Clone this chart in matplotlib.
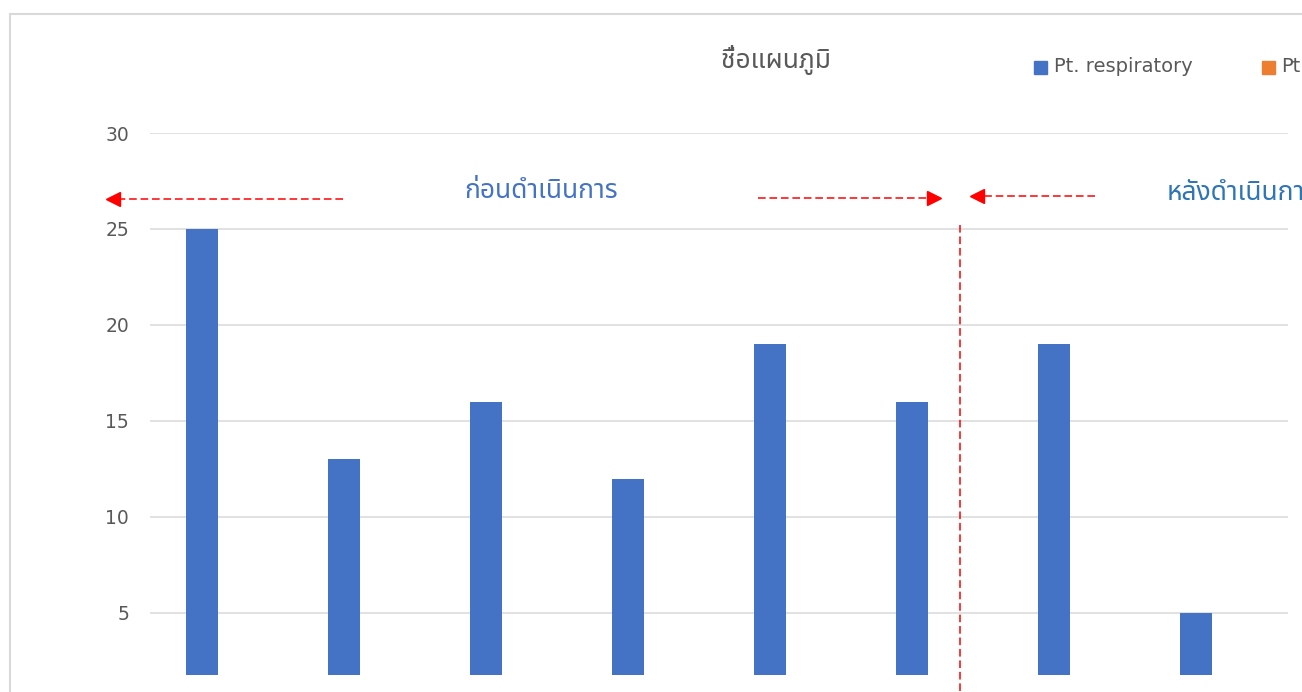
import matplotlib
matplotlib.use("Agg")
import matplotlib.pyplot as plt
from matplotlib import font_manager
from matplotlib.patches import Rectangle

# data
categories = [0, 1, 2, 3, 4, 5, 6, 7]
respiratory = [25, 13, 16, 12, 19, 16, 19, 5]
yticks = [5, 10, 15, 20, 25, 30]
title = "ชื่อแผนภูมิ"
series_names = ["Pt. respiratory", "Pt."]
before_label = "ก่อนดำเนินการ"
after_label = "หลังดำเนินการ"

# pick a Thai font that is installed
installed = {f.name for f in font_manager.fontManager.ttflist}
thai = "DejaVu Sans"
for name in ["Noto Sans Thai", "Noto Sans Thai UI", "Anuphan", "Sarabun", "Athiti"]:
    if name in installed:
        thai = name
        break
plt.rcParams['font.family'] = ['DejaVu Sans']

W, H = 1302, 692
fig = plt.figure(figsize=(W / 100, H / 100), dpi=100)
ax = fig.add_axes([150 / W, 17 / H, (1288 - 150) / W, (675 - 133) / H])

ax.bar(categories, respiratory, width=0.225, color='#4472C4', zorder=2)
ax.set_xlim(-0.366, 7.648)
ax.set_ylim(1.77, 30)
ax.set_yticks(yticks)
ax.set_xticks([])
ax.grid(axis='y', color='#D9D9D9', linewidth=1.1, zorder=0)
ax.tick_params(axis='y', length=0, pad=15, labelsize=13.5, labelcolor='#595959')
for s in ax.spines.values():
    s.set_visible(False)

# chart border (continues past the cropped edges)
fig.patches.append(Rectangle((9.5 / W, -0.1), 1.2, (H - 13.5) / H + 0.1,
                             transform=fig.transFigure, fill=False,
                             edgecolor='#D9D9D9', linewidth=1.5))

# title and legend
fig.text(776 / W, 1 - 60 / H, title, family=[thai, 'DejaVu Sans'], fontsize=19,
         color='#595959', ha='center', va='center')
fig.patches.append(Rectangle((1034 / W, 1 - 74 / H), 13 / W, 13 / H,
                             transform=fig.transFigure, color='#4472C4'))
fig.text(1054 / W, 1 - 67 / H, series_names[0], fontsize=14, color='#595959', va='center')
fig.patches.append(Rectangle((1262 / W, 1 - 74 / H), 13 / W, 13 / H,
                             transform=fig.transFigure, color='#ED7D31'))
fig.text(1281 / W, 1 - 67 / H, series_names[1], fontsize=14, color='#595959', va='center')

# before / after annotations
red = '#FF0000'
dash = dict(color=red, linewidth=1.1, linestyle=(0, (5, 2.5)), clip_on=False, zorder=3)
ax.plot([0.993, -0.60], [26.56, 26.56], **dash)
ax.plot([-0.625], [26.56], marker='<', color=red, markersize=10, clip_on=False)
ax.plot([3.915, 5.13], [26.61, 26.61], **dash)
ax.plot([5.155], [26.61], marker='>', color=red, markersize=10, clip_on=False)
ax.plot([6.289, 5.48], [26.72, 26.72], **dash)
ax.plot([5.455], [26.72], marker='<', color=red, markersize=10, clip_on=False)
ax.plot([5.338, 5.338], [25.21, 0.8], **dash)

ax.text(2.387, 27.0, before_label, family=[thai, 'DejaVu Sans'], fontsize=19,
        color='#4472C4', ha='center', va='center')
ax.text(6.79, 26.9, after_label, family=[thai, 'DejaVu Sans'], fontsize=19,
        color='#2E75B6', ha='left', va='center', clip_on=False)

fig.savefig("out.png", dpi=100)
